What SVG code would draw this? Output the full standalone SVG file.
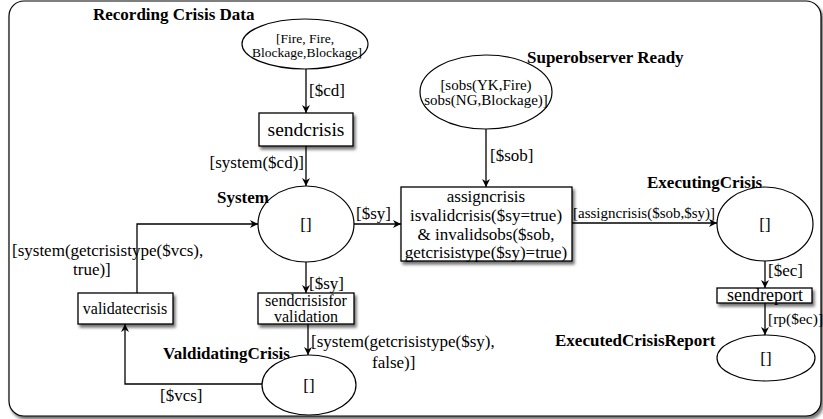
<svg xmlns="http://www.w3.org/2000/svg" width="823" height="419" viewBox="0 0 823 419" font-family="'Liberation Serif','Times New Roman',serif">
<style>
text{font-family:"Liberation Serif","Times New Roman",serif;fill:#000}
.lbl{font-size:17px}
.title{font-size:17px;font-weight:bold}
.box{fill:#fff;stroke:#000;stroke-width:1.3;filter:url(#sh)}
.place{fill:#fff;stroke:#000;stroke-width:1.2}
.edge{fill:none;stroke:#000;stroke-width:1.3;marker-end:url(#arr)}
.mid{text-anchor:middle}
</style>
<defs>
<filter id="sh" x="-20%" y="-20%" width="140%" height="160%">
<feDropShadow dx="2" dy="3" stdDeviation="1.6" flood-color="#000" flood-opacity="0.55"/>
</filter>
<marker id="arr" viewBox="0 0 10 10" refX="10" refY="5" markerWidth="8" markerHeight="8" markerUnits="userSpaceOnUse" orient="auto">
<path d="M0,0 L10,5 L0,10 L3,5 Z" fill="#000"/>
</marker>
</defs>
<rect x="9" y="1" width="812" height="415" rx="15" fill="#fff" stroke="#000" stroke-width="1.2" filter="url(#sh)"/>

<g id="connectors">
<line class="edge" x1="306" y1="69" x2="306" y2="113"/>
<line class="edge" x1="306" y1="146" x2="306" y2="186"/>
<line class="edge" x1="354" y1="224" x2="401" y2="224"/>
<line class="edge" x1="486" y1="129" x2="486" y2="187"/>
<line class="edge" x1="572" y1="223" x2="717" y2="223"/>
<line class="edge" x1="765" y1="261" x2="765" y2="288"/>
<line class="edge" x1="765" y1="303" x2="765" y2="335"/>
<line class="edge" x1="306" y1="262" x2="306" y2="293"/>
<line class="edge" x1="308" y1="324" x2="308" y2="355"/>
<polyline class="edge" points="262,384 125,384 125,324"/>
<polyline class="edge" points="137,293 137,224 258,224"/>
<text class="lbl" x="309" y="96">[$cd]</text>
<text class="lbl" x="304" y="168" text-anchor="end">[system($cd)]</text>
<text class="lbl" x="356" y="219">[$sy]</text>
<text class="lbl" x="490" y="161">[$sob]</text>
<text x="573" y="218" style="font-size:15px">[assigncrisis($sob,$sy)]</text>
<text class="lbl" x="768" y="276">[$ec]</text>
<text x="768" y="324" style="font-size:15.5px">[rp($ec)]</text>
<text class="lbl" x="309" y="289">[$sy]</text>
<text class="lbl" x="311" y="347">[system(getcrisistype($sy),</text>
<text class="lbl" x="372" y="368">false)]</text>
<text class="lbl" x="160" y="401">[$vcs]</text>
<text class="lbl" x="12" y="256">[system(getcrisistype($vcs),</text>
<text class="lbl" x="73" y="275">true)]</text>
</g>

<g id="RecordingCrisisData">
<ellipse class="place" cx="305" cy="44" rx="63" ry="25"/>
<text class="title" x="93" y="20">Recording Crisis Data</text>
<text class="mid" x="305" y="43" style="font-size:13.5px">[Fire, Fire,</text>
<text class="mid" x="307" y="57" style="font-size:13.5px">Blockage,Blockage]</text>
</g>

<g id="sendcrisis">
<rect class="box" x="259" y="113" width="94" height="33"/>
<text class="mid" x="306" y="136" style="font-size:19.5px">sendcrisis</text>
</g>

<g id="System">
<ellipse class="place" cx="306" cy="224" rx="48" ry="38"/>
<text class="title" x="217" y="203">System</text>
<text class="lbl mid" x="306" y="230">[]</text>
</g>

<g id="SuperobserverReady">
<ellipse class="place" cx="486" cy="92" rx="66" ry="37"/>
<text class="title" x="527" y="63">Superobserver Ready</text>
<text class="mid" x="486" y="90" style="font-size:15px">[sobs(YK,Fire)</text>
<text class="mid" x="486" y="105" style="font-size:15px">sobs(NG,Blockage)]</text>
</g>

<g id="assigncrisis">
<rect class="box" x="401" y="187" width="171" height="74"/>
<text class="lbl mid" x="486" y="202">assigncrisis</text>
<text class="lbl mid" x="486" y="221">isvalidcrisis($sy=true)</text>
<text class="lbl mid" x="486" y="240">&amp; invalidsobs($sob,</text>
<text class="lbl mid" x="486" y="258">getcrisistype($sy)=true)</text>
</g>

<g id="ExecutingCrisis">
<ellipse class="place" cx="765" cy="224" rx="48" ry="37"/>
<text class="title" x="647" y="188">ExecutingCrisis</text>
<text class="lbl mid" x="765" y="230">[]</text>
</g>

<g id="sendreport">
<rect class="box" x="717" y="288" width="95" height="15"/>
<text class="mid" x="765" y="301" style="font-size:18px">sendreport</text>
</g>

<g id="ExecutedCrisisReport">
<ellipse class="place" cx="766" cy="358" rx="49" ry="23"/>
<text class="title" x="555" y="346">ExecutedCrisisReport</text>
<text class="lbl mid" x="766" y="364">[]</text>
</g>

<g id="sendcrisisforvalidation">
<rect class="box" x="258" y="293" width="96" height="31"/>
<text class="mid" x="306" y="306" style="font-size:16px">sendcrisisfor</text>
<text class="mid" x="306" y="322" style="font-size:16px">validation</text>
</g>

<g id="ValidatingCrisis">
<ellipse class="place" cx="309" cy="385" rx="47" ry="30"/>
<text class="title" x="163" y="359">ValdidatingCrisis</text>
<text class="lbl mid" x="309" y="391">[]</text>
</g>

<g id="validatecrisis">
<rect class="box" x="78" y="293" width="95" height="31"/>
<text class="mid" x="125" y="314" style="font-size:16px">validatecrisis</text>
</g>
</svg>
